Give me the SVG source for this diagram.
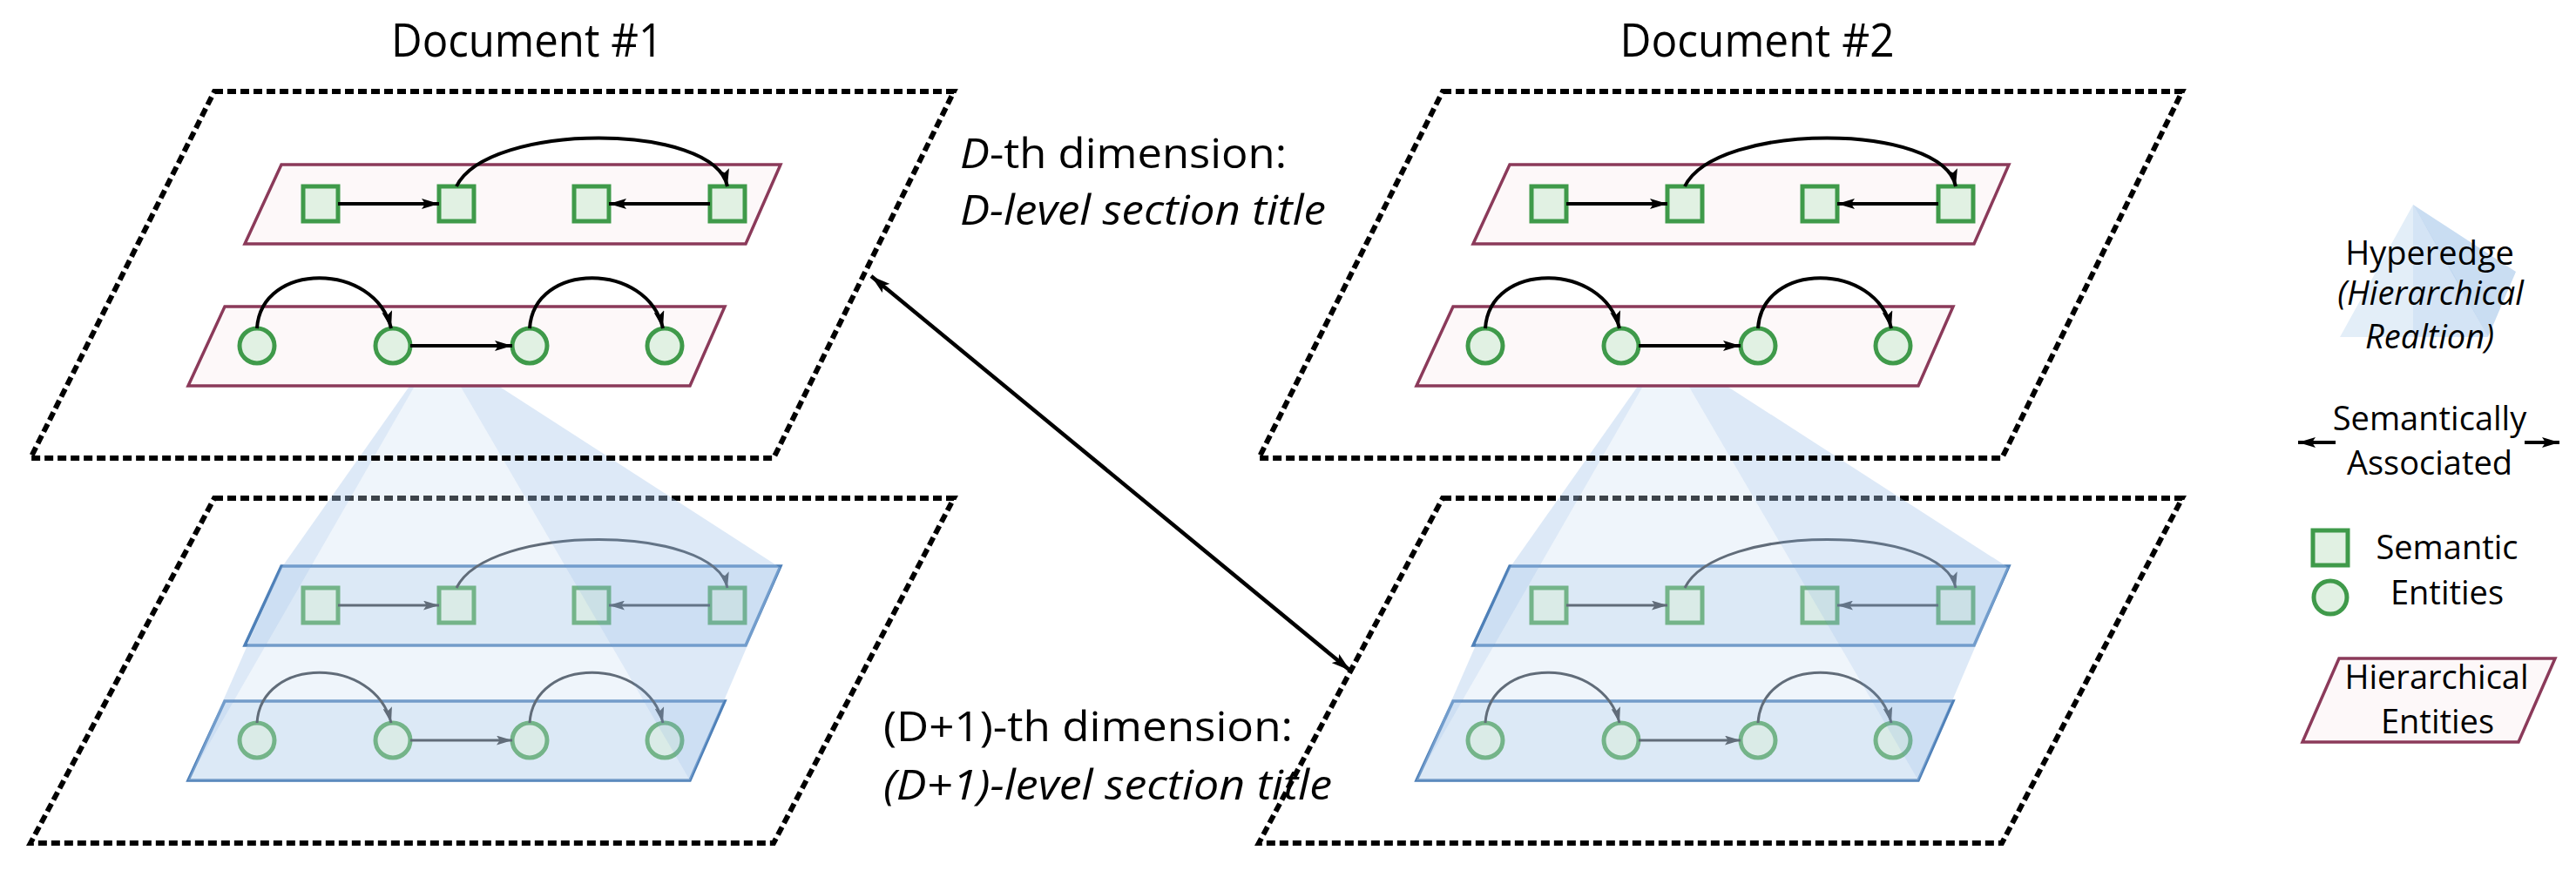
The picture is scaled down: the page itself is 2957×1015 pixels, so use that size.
<svg xmlns="http://www.w3.org/2000/svg" width="2957" height="1015" viewBox="0 0 2957 1015">
<style>
text{font-family:"Open Sans","Liberation Sans",sans-serif;fill:#000}
.title{font-size:53px;text-anchor:middle}
.dim{font-size:48px}
.it{font-style:italic}
.leg{font-size:38px;text-anchor:middle}
.doc{fill:none;stroke:#000;stroke-width:6;stroke-dasharray:10 5}
.hier{fill:#fdf8f9;stroke:#8b3a5a;stroke-width:3.5}
.hierb{fill:#e4eef8;stroke:#4e80b8;stroke-width:3.5}
.ent{fill:#e1f1e3;stroke:#3f9a4a;stroke-width:5}
.entb{fill:#e1f1e3;stroke:#4fa25c;stroke-width:5}
.edge{fill:none;stroke:#000;stroke-width:4}
.edgeb{fill:none;stroke:#343c45;stroke-width:3}
.front{fill:#c9ddf2;fill-opacity:0.3}
.side{fill:#a9c9ec;fill-opacity:0.4}
</style>
<defs>
<marker id="ah" viewBox="0 0 20 12" refX="20" refY="6" markerWidth="20" markerHeight="12" markerUnits="userSpaceOnUse" orient="auto"><path d="M0,0L20,6L0,12L4,6Z" fill="#000"/></marker>
<marker id="ahb" viewBox="0 0 20 12" refX="20" refY="6" markerWidth="18" markerHeight="11" markerUnits="userSpaceOnUse" orient="auto"><path d="M0,0L20,6L0,12L4,6Z" fill="#343c45"/></marker>
<marker id="ahs" viewBox="0 0 20 12" refX="20" refY="6" markerWidth="22" markerHeight="14" markerUnits="userSpaceOnUse" orient="auto-start-reverse"><path d="M0,0L20,6L0,12L4,6Z" fill="#000"/></marker>
<g id="layerTop">
<polygon class="hier" points="323,189 896,189 856,280 281,280"/>
<rect class="ent" x="348" y="214" width="40" height="40"/>
<rect class="ent" x="504" y="214" width="40" height="40"/>
<rect class="ent" x="659" y="214" width="40" height="40"/>
<rect class="ent" x="815" y="214" width="40" height="40"/>
<path class="edge" d="M388,234H504" marker-end="url(#ah)"/>
<path class="edge" d="M815,234H699" marker-end="url(#ah)"/>
<path class="edge" d="M524,214C560,140 820,140 835,214" marker-end="url(#ah)"/>
</g>
<g id="layerBot">
<polygon class="hier" points="258,352 832,352 792,443 216,443"/>
<circle class="ent" cx="295" cy="397" r="20"/>
<circle class="ent" cx="451" cy="397" r="20"/>
<circle class="ent" cx="608" cy="397" r="20"/>
<circle class="ent" cx="763" cy="397" r="20"/>
<path class="edge" d="M471,397H588" marker-end="url(#ah)"/>
<path class="edge" d="M295,377C300,300 430,300 449,377" marker-end="url(#ah)"/>
<path class="edge" d="M608,377C613,300 743,300 761,377" marker-end="url(#ah)"/>
</g>
<g id="layerTopB">
<polygon class="hierb" points="323,189 896,189 856,280 281,280"/>
<rect class="entb" x="348" y="214" width="40" height="40"/>
<rect class="entb" x="504" y="214" width="40" height="40"/>
<rect class="entb" x="659" y="214" width="40" height="40"/>
<rect class="entb" x="815" y="214" width="40" height="40"/>
<path class="edgeb" d="M388,234H504" marker-end="url(#ahb)"/>
<path class="edgeb" d="M815,234H699" marker-end="url(#ahb)"/>
<path class="edgeb" d="M524,214C560,140 820,140 835,214" marker-end="url(#ahb)"/>
</g>
<g id="layerBotB">
<polygon class="hierb" points="258,352 832,352 792,443 216,443"/>
<circle class="entb" cx="295" cy="397" r="20"/>
<circle class="entb" cx="451" cy="397" r="20"/>
<circle class="entb" cx="608" cy="397" r="20"/>
<circle class="entb" cx="763" cy="397" r="20"/>
<path class="edgeb" d="M471,397H588" marker-end="url(#ahb)"/>
<path class="edgeb" d="M295,377C300,300 430,300 449,377" marker-end="url(#ahb)"/>
<path class="edgeb" d="M608,377C613,300 743,300 761,377" marker-end="url(#ahb)"/>
</g>
<g id="docUnit">
<polygon class="doc" points="246,572 1095,572 888,968 35,968"/>
<use href="#layerTopB" transform="translate(0,461)"/>
<use href="#layerBotB" transform="translate(0,453)"/>
<g class="hyperedge">
<polygon class="front" points="502,398 216,896 792,896"/>
<polygon class="side" points="502,398 323,652 216,896"/>
<polygon class="side" points="502,398 896,652 792,896"/>
</g>
<polygon class="doc" points="246,105 1095,105 888,526 35,526"/>
<use href="#layerTop"/>
<use href="#layerBot"/>
</g>
</defs>
<g id="document1">
<text class="title" x="605" y="65" textLength="312" lengthAdjust="spacingAndGlyphs">Document #1</text>
<use href="#docUnit"/>
</g>
<g id="document2">
<text class="title" x="2017" y="65" textLength="315" lengthAdjust="spacingAndGlyphs">Document #2</text>
<use href="#docUnit" transform="translate(1410,0)"/>
</g>
<g id="labels">
<text class="dim" x="1102" y="193" textLength="375" lengthAdjust="spacingAndGlyphs"><tspan class="it">D</tspan>-th dimension:</text>
<text class="dim it" x="1102" y="258" textLength="420" lengthAdjust="spacingAndGlyphs">D-level section title</text>
<text class="dim" x="1014" y="851" textLength="470" lengthAdjust="spacingAndGlyphs">(D+1)-th dimension:</text>
<text class="dim it" x="1014" y="918" textLength="515" lengthAdjust="spacingAndGlyphs">(D+1)-level section title</text>
</g>
<g id="connectors">
<path d="M1000,317L1550,770" stroke="#000" stroke-width="4.5" fill="none" marker-start="url(#ahs)" marker-end="url(#ahs)"/>
</g>
<g id="legend">
<polygon points="2770,235 2686,387 2856,387" fill="#e3eef8"/>
<polygon points="2770,235 2888,312 2856,387" fill="#c9ddf2"/>
<polygon points="2770,235 2815,312 2856,387 2770,387" fill="#a9c9ec" fill-opacity="0.25"/>
<text class="leg" x="2789" y="304">Hyperedge</text>
<text class="leg it" x="2790" y="350" font-size="30">(Hierarchical</text>
<text class="leg it" x="2789" y="400" font-size="30">Realtion)</text>
<text class="leg" x="2789" y="494">Semantically</text>
<text class="leg" x="2789" y="545">Associated</text>
<path d="M2681,508H2638" stroke="#000" stroke-width="4" marker-end="url(#ah)"/>
<path d="M2898,508H2938" stroke="#000" stroke-width="4" marker-end="url(#ah)"/>
<rect class="ent" x="2655" y="609" width="40" height="40"/>
<circle class="ent" cx="2675" cy="686" r="19"/>
<text class="leg" x="2809" y="642">Semantic</text>
<text class="leg" x="2809" y="694">Entities</text>
<polygon class="hier" points="2685,756 2933,756 2891,852 2643,852"/>
<text class="leg" x="2797" y="791">Hierarchical</text>
<text class="leg" x="2798" y="842">Entities</text>
</g>
</svg>
